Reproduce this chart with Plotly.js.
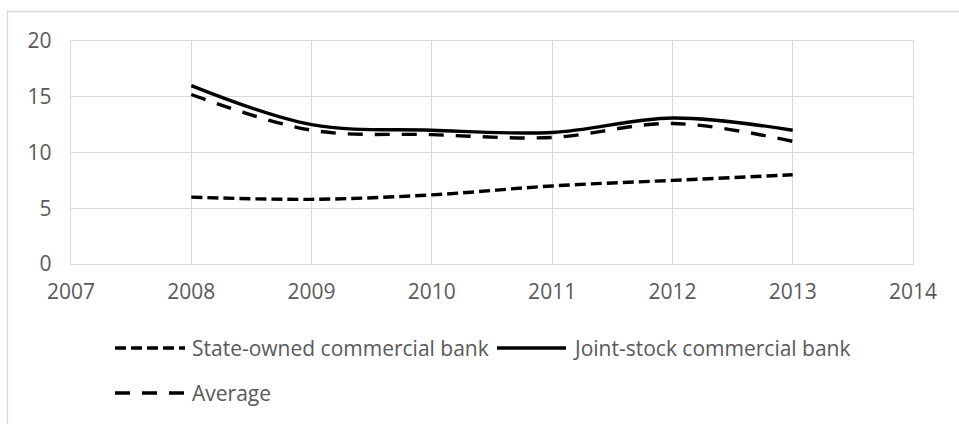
<!DOCTYPE html>
<html>
<head>
<meta charset="utf-8">
<script src="https://cdn.plot.ly/plotly-3.0.1.min.js"></script>
<style>
html,body{margin:0;padding:0;background:#fff;}
#chart{width:959px;height:424px;}
</style>
</head>
<body>
<div id="chart"></div>
<script>
const years = [2008, 2009, 2010, 2011, 2012, 2013];
const stateOwned = [6.0, 5.8, 6.2, 7.0, 7.5, 8.0];
const jointStock = [16.0, 12.5, 12.0, 11.8, 13.1, 12.0];
const average = [15.2, 12.0, 11.6, 11.35, 12.6, 11.0];
const seriesNames = ["State-owned commercial bank", "Joint-stock commercial bank", "Average"];
const xTicks = [2007, 2008, 2009, 2010, 2011, 2012, 2013, 2014];
const yTicks = [0, 5, 10, 15, 20];

const dashes = ["11px,5px", "solid", "15px,12px"];
const values = [stateOwned, jointStock, average];

const traces = values.map((v, i) => ({
  type: 'scatter',
  mode: 'lines',
  x: years,
  y: v,
  name: seriesNames[i],
  line: {color: '#000000', width: 3.4, dash: dashes[i], shape: 'spline', smoothing: 1},
  showlegend: false,
  hoverinfo: 'x+y'
}));

// plot area pixels: left 71, right 913, top 41, bottom 264
const L = 71, R = 913, T = 41, B = 264;
const px = v => (v - L) / (R - L);
const py = v => (B - v) / (B - T);

const legendItems = [
  {sx0: 115, sx1: 185, tx: 190, y: 348},
  {sx0: 497, sx1: 566, tx: 571, y: 348},
  {sx0: 115, sx1: 185, tx: 190, y: 393}
];

const shapes = [{
  type: 'rect', xref: 'paper', yref: 'paper',
  x0: px(7.5), x1: px(970), y0: py(440), y1: py(11.5),
  line: {color: '#d9d9d9', width: 1.3}, fillcolor: 'rgba(0,0,0,0)'
}];
const annotations = [];
legendItems.forEach((it, i) => {
  shapes.push({
    type: 'line', xref: 'paper', yref: 'paper',
    x0: px(it.sx0), x1: px(it.sx1), y0: py(it.y), y1: py(it.y),
    line: {color: '#000000', width: 3.4, dash: dashes[i]}
  });
  annotations.push({
    xref: 'paper', yref: 'paper', x: px(it.tx), y: py(it.y),
    xanchor: 'left', yanchor: 'middle', showarrow: false,
    text: seriesNames[i],
    font: {family: 'Open Sans, sans-serif', size: 21, color: '#595959'}
  });
});

const layout = {
  width: 959, height: 424,
  margin: {l: L, r: 959 - R, t: T, b: 424 - B, pad: 0},
  paper_bgcolor: '#ffffff', plot_bgcolor: '#ffffff',
  font: {family: 'Open Sans, sans-serif', size: 21, color: '#595959'},
  xaxis: {
    range: [2007, 2014], tickvals: xTicks, ticktext: xTicks.map(String),
    showgrid: true, gridcolor: '#d9d9d9', gridwidth: 1,
    zeroline: false, showline: true, linecolor: '#d9d9d9', linewidth: 1.3, mirror: true,
    ticks: '', ticklabelstandoff: 8, fixedrange: true
  },
  yaxis: {
    range: [0, 20], tickvals: yTicks, ticktext: yTicks.map(String),
    showgrid: true, gridcolor: '#d9d9d9', gridwidth: 1,
    zeroline: false, showline: true, linecolor: '#d9d9d9', linewidth: 1.3, mirror: true,
    ticks: '', ticklabelstandoff: 14, fixedrange: true
  },
  shapes: shapes,
  annotations: annotations,
  showlegend: false
};

Plotly.newPlot('chart', traces, layout, {displayModeBar: false, staticPlot: true});
</script>
</body>
</html>
